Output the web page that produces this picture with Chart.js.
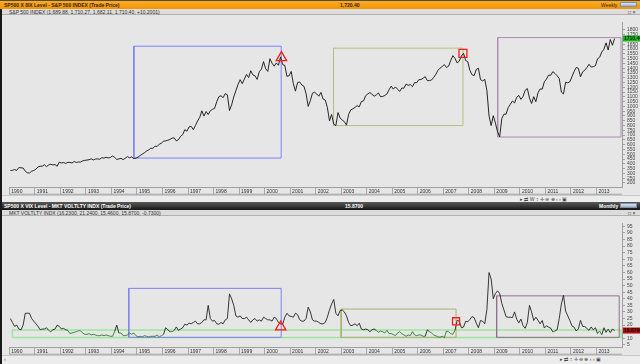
<!DOCTYPE html>
<html>
<head>
<meta charset="utf-8">
<script src="https://cdn.jsdelivr.net/npm/chart.js@4.4.1/dist/chart.umd.min.js"></script>
<style>
body { margin: 0; width: 640px; height: 364px; overflow: hidden; background: #e6e6e6; position: relative; font-family: "Liberation Sans", Arial, sans-serif; }
.abs { position: absolute; }
.ttl { left: 0; width: 640px; font-size: 5px; line-height: 8px; white-space: nowrap; }
.ttl span, .sub span, .scr span { position: absolute; }
#topTitle { top: 0; height: 9px; background: linear-gradient(#f9ac2a, #f29400); border-top: 1px solid #5a4a30; box-sizing: border-box; color: #3a2200; font-weight: bold; }
#vixTitle { top: 202px; height: 8px; background: linear-gradient(#5a5a5a, #151515); color: #fff; font-weight: bold; }
.sub { left: 0; width: 640px; height: 6px; background: #dcdcdc; border-bottom: 1px solid #b0b0b0; box-sizing: border-box; font-size: 5px; line-height: 6px; color: #333; white-space: nowrap; }
.btns { right: 3px; top: 1px; width: 17px; height: 5px; background: linear-gradient(#dfe6f0, #9fb0c8); border: 1px solid #8090a8; box-sizing: border-box; }
.scr { left: 0; width: 640px; height: 7px; background: #ececec; border-top: 1px solid #c8c8c8; box-sizing: border-box; font-size: 5px; line-height: 6px; color: #444; }
canvas { position: absolute; left: 2px; }
#leftEdge { left: 0; top: 9px; width: 2px; height: 355px; background: #1a1a1a; }
</style>
</head>
<body>
<div id="topTitle" class="abs ttl">
  <span style="left:4px">SP500 X 8IX Level - S&amp;P 500 INDEX (Trade Price)</span>
  <span style="left:340px">1,720.40</span>
  <span style="left:601px;font-weight:normal">Weekly</span>
  <div class="abs btns"></div>
</div>
<div class="abs sub" style="top:9px">
  <span style="left:9px">S&amp;P 500 INDEX (1,689.88, 1,710.27, 1,682.11, 1,710.40, +10.2001)</span>
  <span style="left:628px">□ ×</span>
</div>
<canvas id="spx" width="638" height="180" style="top:15px;width:638px;height:180px"></canvas>
<div class="abs scr" style="top:195px">
  <span style="left:520px">▸ ⇄ W ↕ ✛ ⊖ ⊕ ‹ › ▣</span>
</div>
<div id="vixTitle" class="abs ttl">
  <span style="left:4px">SP500 X VIX Level - MKT VOLTLTY INDX (Trade Price)</span>
  <span style="left:345px">15.8700</span>
  <span style="left:599px">Monthly</span>
  <div class="abs btns"></div>
</div>
<div class="abs sub" style="top:210px">
  <span style="left:9px">MKT VOLTLTY INDX (16.2300, 21.2400, 15.4600, 15.8700, -0.7300)</span>
  <span style="left:628px">□ ×</span>
</div>
<canvas id="vix" width="638" height="139" style="top:216px;width:638px;height:139px"></canvas>
<div class="abs scr" style="top:355px;height:9px">
  <span style="left:4px">‹</span>
  <span style="left:560px">▸ ⇄ ↕ ✛ ⊖ ⊕ ‹ › ▣</span>
</div>
<div id="leftEdge" class="abs"></div>

<script>
// monthly values, Jan 1990 .. Sep 2013
const startYear = 1990;
const lastYearTick = 2013;

const spxClose = [
  329, 332, 340, 331, 361, 358, 356, 323, 306, 304, 322, 330,
  344, 367, 375, 375, 390, 371, 388, 395, 388, 392, 375, 417,
  409, 413, 404, 415, 415, 408, 424, 414, 418, 419, 431, 436,
  439, 443, 452, 440, 450, 451, 448, 464, 459, 468, 462, 466,
  482, 467, 446, 451, 457, 444, 458, 475, 463, 472, 454, 459,
  470, 487, 501, 515, 533, 545, 562, 562, 584, 582, 605, 616,
  636, 640, 646, 654, 669, 671, 640, 652, 687, 705, 757, 741,
  786, 791, 757, 801, 848, 885, 954, 899, 947, 915, 955, 970,
  980, 1049, 1102, 1112, 1091, 1134, 1121, 957, 1017, 1099, 1164, 1229,
  1280, 1238, 1286, 1335, 1302, 1373, 1329, 1320, 1283, 1363, 1389, 1469,
  1394, 1366, 1499, 1452, 1421, 1455, 1431, 1518, 1437, 1429, 1315, 1320,
  1366, 1240, 1160, 1249, 1256, 1224, 1211, 1134, 1000, 1060, 1139, 1148,
  1130, 1107, 1147, 1077, 1067, 990, 850, 916, 815, 800, 936, 880,
  856, 841, 805, 917, 964, 975, 990, 1008, 996, 1051, 1058, 1112,
  1131, 1145, 1126, 1107, 1121, 1141, 1102, 1104, 1115, 1130, 1174, 1212,
  1181, 1204, 1181, 1157, 1192, 1191, 1234, 1220, 1229, 1207, 1249, 1248,
  1280, 1281, 1295, 1311, 1270, 1270, 1277, 1304, 1336, 1378, 1401, 1418,
  1438, 1407, 1421, 1482, 1531, 1503, 1455, 1474, 1527, 1555, 1481, 1468,
  1378, 1331, 1323, 1386, 1400, 1280, 1267, 1283, 1166, 900, 800, 903,
  826, 735, 683, 873, 919, 919, 987, 1021, 1057, 1036, 1096, 1115,
  1074, 1104, 1169, 1187, 1089, 1031, 1102, 1049, 1141, 1183, 1181, 1258,
  1286, 1327, 1326, 1364, 1345, 1321, 1292, 1150, 1131, 1253, 1247, 1258,
  1312, 1366, 1408, 1398, 1310, 1362, 1379, 1407, 1441, 1412, 1416, 1426,
  1498, 1515, 1569, 1598, 1665, 1590, 1700, 1640, 1710
];

const vixClose = [
  25, 22, 19, 20, 17, 16.4, 20, 29, 29, 29, 25, 23,
  21, 19, 16.5, 17, 17, 18, 16, 15, 16.5, 17, 20, 19,
  17, 17.5, 16.5, 16, 13.6, 14, 14.5, 15, 15.7, 15.7, 14, 13,
  13, 13.5, 12.5, 13, 12.5, 12, 12, 12.5, 12, 12.5, 12, 11.5,
  11.5, 15, 20, 14, 14, 12, 12, 12.5, 14, 13, 14, 12,
  11, 11.5, 11, 12, 11.5, 11, 11.5, 11.5, 11.5, 12.5, 11, 12,
  13, 18, 16.5, 15, 15, 16, 18.6, 16, 17, 18, 20.7, 20,
  21.5, 21, 22, 23, 21, 21, 22, 24, 24, 35, 25, 23,
  23.5, 21, 20.7, 22, 21, 24, 25, 43.7, 40, 35, 27, 26,
  27, 25, 25, 26, 24, 22, 24, 25, 23, 24, 23, 26,
  25, 24, 24, 23, 26, 25, 22, 21, 20.6, 26, 29, 27,
  26.6, 26, 29, 28, 24, 23, 23, 25, 33.6, 30, 24, 23,
  23, 22, 21, 21, 22, 26, 31.5, 36, 39.5, 29, 27, 31,
  31.5, 30, 27, 22, 19.5, 20, 21, 19.5, 21.4, 17, 16.4, 17,
  16.5, 15, 16.5, 17, 16, 14.5, 15.5, 15, 14, 16, 13.5, 13.6,
  12.8, 12, 14, 15, 13.5, 12.5, 11.5, 12.5, 12, 15, 12.5, 12,
  12.5, 12.5, 11.5, 11.5, 16.4, 15, 14, 12.5, 11.9, 11, 10.8, 11.5,
  10.5, 15.5, 15, 13.5, 13, 16, 23.6, 23, 18, 18.5, 22.9, 22.5,
  24.3, 26.5, 25.6, 21.5, 18, 23.5, 22.9, 21, 32, 59.9, 55, 40,
  44, 46, 44, 36.5, 31.5, 26.4, 25.9, 26, 25.6, 30, 24.5, 21.7,
  24.6, 19.5, 17.6, 22, 35, 30, 23.5, 26, 23.7, 21, 23.5, 17.8,
  19.5, 18.4, 17.7, 14.8, 15.5, 16.5, 25, 36, 42.6, 30.6, 27, 23.4,
  19.4, 18.4, 15.5, 17.2, 23.6, 19, 18.9, 17.5, 16, 18.6, 16.4, 18,
  13.6, 15.5, 12.7, 18, 14.5, 16.9, 14.3, 17, 15.87
];

// annotation boxes in data units: [x0, x1, y0, y1]
const spxBoxes = [[1994.88, 2000.65, 460, 1630], [2002.70, 2007.77, 800, 1610], [2009.13, 2013.96, 680, 1720]];
const vixBoxes = [[1994.68, 2000.65, 10.7, 47.9], [2003.0, 2007.5, 10.7, 32.2], [2009.09, 2013.89, 10.7, 42.2]];
const vixBand = [1990.12, 2013.96, 10.5, 16.3];
const spxTriangle = [2000.66, 1510];
const spxSquare = [2007.77, 1555];
const vixTriangle = [2000.63, 18.6];
const vixSquare = [2007.5, 22.9];
const spxLast = 1710.40;
const vixLast = 15.87;

const boxColors = ['#8080ff', '#b4bf7c', '#ad8cad'];
const vixBoxColors = ['#8080f0', '#a8b070', '#8e708e'];

function series(values) {
  return values.map((v, i) => ({ x: startYear + (i + 0.5) / 12, y: v }));
}

function rect(b) {
  return [{x: b[0], y: b[2]}, {x: b[1], y: b[2]}, {x: b[1], y: b[3]}, {x: b[0], y: b[3]}, {x: b[0], y: b[2]}];
}

function boxSet(b, color, width) {
  return { data: rect(b), showLine: true, borderColor: color, borderWidth: width || 1, pointRadius: 0, fill: false, tension: 0, order: 3 };
}

function markSet(p, style, r) {
  return { data: [{x: p[0], y: p[1]}], showLine: false, pointStyle: style, pointRadius: r,
    borderColor: '#ff1a1a', borderWidth: 1.3, backgroundColor: 'rgba(255,255,255,0)', order: 0 };
}

// value tag on right axis
const lastTag = {
  id: 'lastTag',
  afterDraw(chart, args, opts) {
    const ctx = chart.ctx;
    const y = chart.scales.y.getPixelForValue(opts.value);
    const x = chart.chartArea.right + 1;
    ctx.save();
    ctx.fillStyle = opts.bg;
    ctx.fillRect(x, y - 3, 17, 6);
    ctx.fillStyle = opts.fg;
    ctx.font = 'bold 5px "Liberation Sans"';
    ctx.textBaseline = 'middle';
    ctx.fillText(opts.text, x + 1, y + 0.5);
    // strip bottom line
    const xs = chart.scales.x;
    ctx.strokeStyle = '#a0a0a0';
    ctx.beginPath();
    ctx.moveTo(xs.left, xs.bottom - 0.5);
    ctx.lineTo(xs.right, xs.bottom - 0.5);
    ctx.stroke();
    ctx.restore();
  }
};

function baseOptions(yMin, yMax, tickMin, tickMax, tag) {
  return {
    animation: false,
    responsive: false,
    events: [],
    layout: { padding: 0 },
    plugins: { legend: { display: false }, tooltip: { enabled: false }, lastTag: tag },
    scales: {
      x: {
        type: 'linear', position: 'bottom', min: 1990, max: 2014,
        afterFit: s => { s.height = 7; s.paddingLeft = 0; s.paddingRight = 0; },
        afterBuildTicks: s => { s.ticks = s.ticks.filter(t => t.value <= lastYearTick); },
        border: { color: '#a0a0a0' },
        grid: { drawOnChartArea: false, tickLength: 7, color: '#a8a8a8' },
        ticks: { stepSize: 1, autoSkip: false, maxRotation: 0, align: 'start', padding: -6.5, labelOffset: 2,
          color: '#333', font: { size: 5, family: 'Liberation Sans' }, callback: v => String(v) }
      },
      y: {
        position: 'right', min: yMin, max: yMax,
        afterFit: s => { s.width = 18; s.paddingTop = 0; s.paddingBottom = 0; },
        afterBuildTicks: s => { s.ticks = s.ticks.filter(t => t.value >= tickMin && t.value <= tickMax); },
        border: { color: '#a0a0a0' },
        grid: { drawOnChartArea: false, tickLength: 3, color: '#a0a0a0' },
        ticks: { stepSize: tickMin === 200 ? 50 : 5, autoSkip: false, includeBounds: false, padding: 2,
          color: '#444', font: { size: 5, family: 'Liberation Sans' }, callback: v => String(v) }
      }
    }
  };
}

new Chart(document.getElementById('spx'), {
  type: 'scatter',
  plugins: [lastTag],
  data: {
    datasets: [
      markSet(spxTriangle, 'triangle', 6),
      markSet(spxSquare, 'rect', 5.6),
      { data: series(spxClose), showLine: true, borderColor: '#111', borderWidth: 0.9, pointRadius: 0, tension: 0, order: 1 },
      boxSet(spxBoxes[0], boxColors[0]),
      boxSet(spxBoxes[1], boxColors[1]),
      boxSet(spxBoxes[2], boxColors[2])
    ]
  },
  options: baseOptions(150, 1880, 200, 1800, { value: spxLast, text: '1710.40', bg: '#1fb51f', fg: '#0a2a0a' })
});

new Chart(document.getElementById('vix'), {
  type: 'scatter',
  plugins: [lastTag],
  data: {
    datasets: [
      markSet(vixTriangle, 'triangle', 6),
      markSet(vixSquare, 'rect', 5),
      { data: series(vixClose), showLine: true, borderColor: '#222', borderWidth: 0.9, pointRadius: 0, tension: 0, order: 1,
        segment: { borderColor: c => (c.p0.parsed.y < vixBand[3] && c.p1.parsed.y < vixBand[3]) ? '#2f7d2f' : '#222' } },
      boxSet(vixBoxes[0], vixBoxColors[0]),
      boxSet(vixBoxes[1], vixBoxColors[1]),
      boxSet(vixBoxes[2], vixBoxColors[2]),
      boxSet(vixBand, '#9be89b', 1.5)
    ]
  },
  options: baseOptions(2.84, 97.3, 5, 95, { value: vixLast, text: '15.8700', bg: '#b01010', fg: '#1a0000' })
});
</script>
</body>
</html>
